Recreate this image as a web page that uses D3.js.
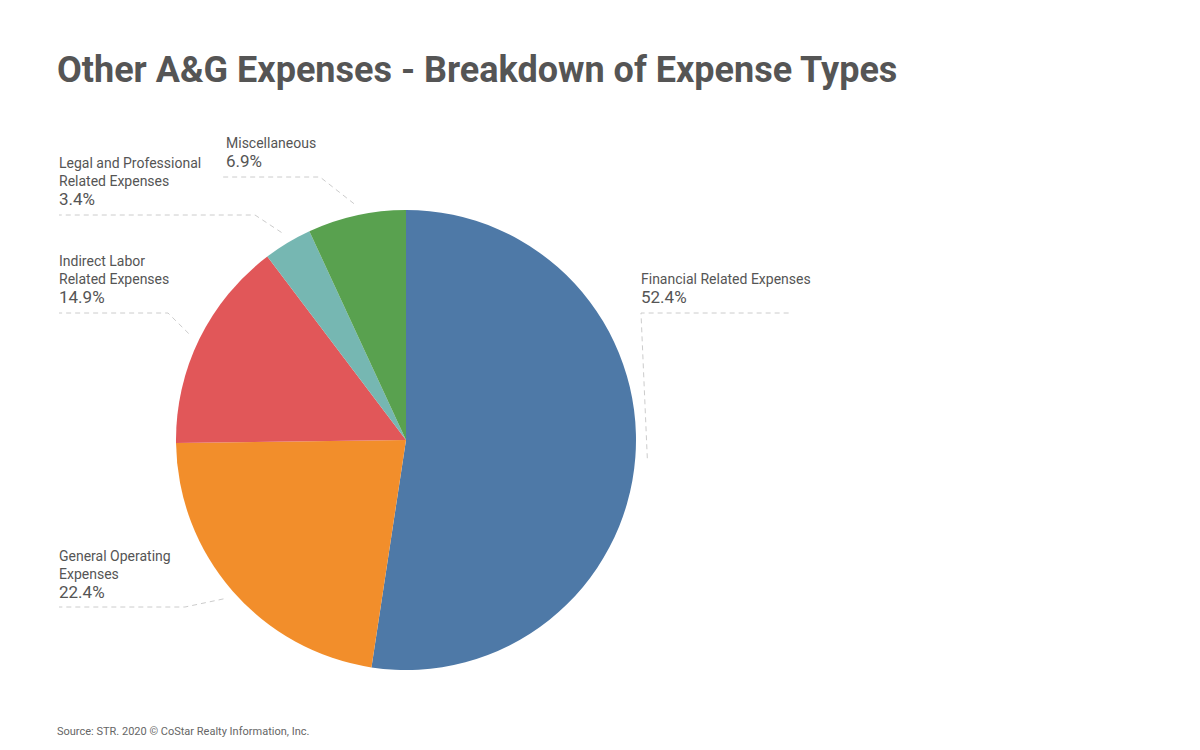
<!DOCTYPE html>
<meta charset="utf-8">
<style>
body { margin: 0; background: #fff; }
text { font-family: "Liberation Sans Narrow", "Roboto", sans-serif; fill: #555; }
</style>
<body>
<script src="https://cdn.jsdelivr.net/npm/d3@7"></script>
<div id="content"></div>
<script>
var width = 1200, height = 750;

var categories = ["Financial Related Expenses", "General Operating Expenses", "Indirect Labor Related Expenses", "Legal and Professional Related Expenses", "Miscellaneous"];
var values = [52.4, 22.4, 14.9, 3.4, 6.9];
var colors = ["#4e79a7", "#f28e2b", "#e15759", "#76b7b2", "#59a14f"];
var labelLines = [["Financial Related Expenses"], ["General Operating", "Expenses"], ["Indirect Labor", "Related Expenses"], ["Legal and Professional", "Related Expenses"], ["Miscellaneous"]];

// label layout: text x, first line y, leader y, leader x range
var layout = [
  {x: 641, y: 284, ly: 313, x0: 641, x1: 792, side: "r"},
  {x: 59, y: 561, ly: 607, x0: 59, x1: 185, side: "l"},
  {x: 59, y: 266, ly: 313, x0: 59, x1: 168, side: "l"},
  {x: 59, y: 168, ly: 215, x0: 59, x1: 255, side: "l"},
  {x: 226, y: 148, ly: 177, x0: 220, x1: 320, side: "l"}
];

var cx = 406, cy = 440, r = 230;

var svg = d3.select("#content").append("svg").attr("width", width).attr("height", height);

svg.append("text").attr("x", 57).attr("y", 82).style("font-size", "36px").style("font-weight", "bold")
  .style("fill", "#555").text("Other A&G Expenses - Breakdown of Expense Types");

var pie = d3.pie().sort(null).value(d => d);
var arc = d3.arc().innerRadius(0).outerRadius(r);
var arcs = pie(values);

var g = svg.append("g").attr("transform", "translate(" + cx + "," + cy + ")");
g.selectAll("path").data(arcs).enter().append("path")
  .attr("d", arc).style("fill", (d, i) => colors[i]);

var outer = d3.arc().innerRadius(r + 12).outerRadius(r + 12);

arcs.forEach(function(a, i) {
  var L = layout[i];
  var p = outer.centroid(a);
  var px = cx + p[0], py = cy + p[1];
  var kx = L.side === "r" ? L.x0 : L.x1;
  svg.append("polyline")
    .attr("points", [[px, py], [kx, L.ly], [L.side === "r" ? L.x1 : L.x0, L.ly]].map(q => q.join(",")).join(" "))
    .style("fill", "none").style("stroke", "#ccc").style("stroke-width", 1).style("stroke-dasharray", "5,4");
  var t = svg.append("text").attr("x", L.x).attr("y", L.y).style("font-size", "14px");
  labelLines[i].forEach(function(s, j) {
    t.append("tspan").attr("x", L.x).attr("dy", j ? 18 : 0).text(s);
  });
  t.append("tspan").attr("x", L.x).attr("dy", 19).style("font-size", "17px").text(values[i].toFixed(1) + "%");
});

svg.append("text").attr("x", 57).attr("y", 735).style("font-size", "11px").style("fill", "#666")
  .text("Source: STR. 2020 \u00a9 CoStar Realty Information, Inc.");
</script>
</body>
